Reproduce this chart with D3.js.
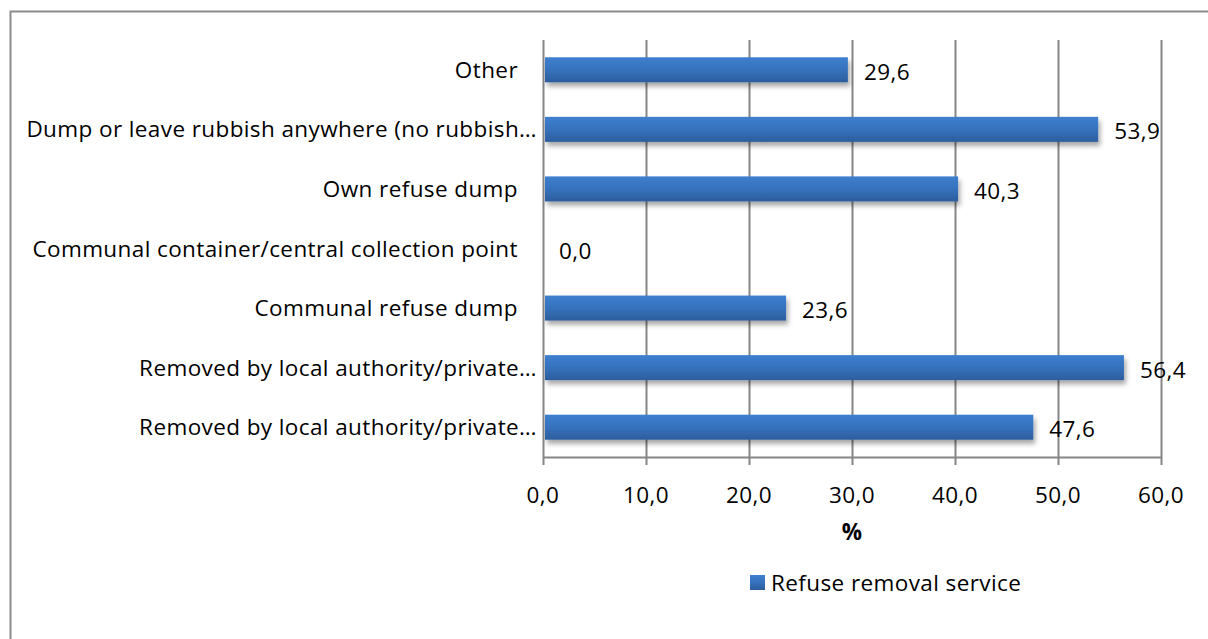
<!DOCTYPE html>
<html><head><meta charset="utf-8">
<script src="https://cdn.jsdelivr.net/npm/d3@7"></script>
<style>body{margin:0;background:#fff}svg{display:block}text{font-family:"Open Sans",Lato,sans-serif;letter-spacing:0.4px}</style>
</head><body>
<svg id="c" width="1208" height="639"></svg>
<script>
const categories = [
  "Other",
  "Dump or leave rubbish anywhere (no rubbish…",
  "Own refuse dump",
  "Communal container/central collection point",
  "Communal refuse dump",
  "Removed by local authority/private…",
  "Removed by local authority/private…"
];
const values = [29.6, 53.9, 40.3, 0.0, 23.6, 56.4, 47.6];
const seriesName = "Refuse removal service";
const xTicks = [0, 10, 20, 30, 40, 50, 60];
const xTitle = "%";

const svg = d3.select("#c");
const fmt = v => v.toFixed(1).replace(".", ",");
const FS = 22.5;

// frame
svg.append("path").attr("d","M10.5,639 V11.5 H1208").attr("fill","none").attr("stroke","#8c8c8c").attr("stroke-width",2);

const defs = svg.append("defs");
const g1 = defs.append("linearGradient").attr("id","bg").attr("x1",0).attr("y1",0).attr("x2",0).attr("y2",1);
g1.append("stop").attr("offset","0").attr("stop-color","#3d7fcf");
g1.append("stop").attr("offset","0.5").attr("stop-color","#3672bd");
g1.append("stop").attr("offset","1").attr("stop-color","#2c5d9c");
const f = defs.append("filter").attr("id","sh").attr("x","-5%").attr("y","-30%").attr("width","110%").attr("height","180%");
f.append("feDropShadow").attr("dx",2).attr("dy",4).attr("stdDeviation",2.5).attr("flood-color","#000").attr("flood-opacity",0.35);

const x = d3.scaleLinear().domain([0,60]).range([543,1161]);
const y = d3.scaleBand().domain(d3.range(categories.length)).range([40,457]).paddingInner(0.58).paddingOuter(0.29);

// gridlines
svg.append("g").selectAll("line").data(xTicks).join("line")
  .attr("x1",d=>Math.round(x(d))+0.5).attr("x2",d=>Math.round(x(d))+0.5)
  .attr("y1",40).attr("y2",465).attr("stroke","#868686").attr("stroke-width",2);
// axis line
svg.append("line").attr("x1",543).attr("x2",1162).attr("y1",457.5).attr("y2",457.5).attr("stroke","#868686").attr("stroke-width",2);

// bars
svg.append("g").selectAll("rect").data(values).join("rect")
  .attr("x",x(0)+2).attr("y",(d,i)=>y(i)).attr("height",y.bandwidth())
  .attr("width",d=>Math.max(0,x(d)-x(0)-2)).attr("fill","url(#bg)").attr("filter","url(#sh)");

// value labels
svg.append("g").selectAll("text").data(values).join("text")
  .attr("x",d=>x(d)+16).attr("y",(d,i)=>y(i)+y.bandwidth()/2+10)
  .attr("font-size",FS).attr("fill","#000").text(d=>fmt(d));

// category labels (truncated ones sit closer to the axis; others carry Excel's trailing gap)
svg.append("g").selectAll("text").data(categories).join("text")
  .attr("x",d=>d.endsWith("…") ? 537 : 518).attr("y",(d,i)=>y(i)+y.bandwidth()/2+8)
  .attr("text-anchor","end").attr("font-size",FS).attr("fill","#000").text(d=>d);

// tick labels
svg.append("g").selectAll("text").data(xTicks).join("text")
  .attr("x",d=>x(d)).attr("y",503).attr("text-anchor","middle")
  .attr("font-size",FS).attr("fill","#000").text(d=>fmt(d));

svg.append("text").attr("x",852).attr("y",540).attr("text-anchor","middle")
  .attr("font-size",FS).attr("font-weight","bold").text(xTitle);

// legend
svg.append("rect").attr("x",750).attr("y",575).attr("width",15).attr("height",15).attr("fill","url(#bg)");
svg.append("text").attr("x",771).attr("y",591).attr("font-size",FS).text(seriesName);
</script>
</body></html>
